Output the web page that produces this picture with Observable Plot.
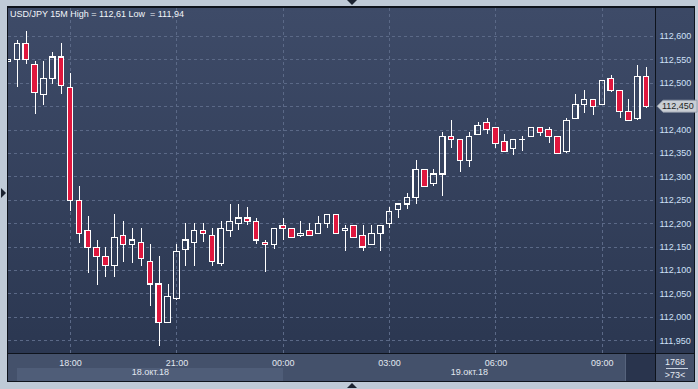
<!DOCTYPE html>
<html><head><meta charset="utf-8">
<script src="https://cdn.jsdelivr.net/npm/d3@7"></script>
<script src="https://cdn.jsdelivr.net/npm/@observablehq/plot@0.6"></script>
<style>
html,body{margin:0;padding:0;background:#bfcad7;}
#wrap{position:relative;width:698px;height:389px;overflow:hidden;background:#bfcad7;font-family:"Liberation Sans",Arial,sans-serif;}
.abs{position:absolute;}
#title{left:10px;top:9px;font-size:9px;color:#f2f5f9;white-space:pre;line-height:11px;}
#chart{left:0;top:0;}
.tri{width:0;height:0;position:absolute;}
</style></head><body>
<div id="wrap">
  <div class="abs" style="left:7px;top:6px;width:688px;height:376px;background:#0e131c"></div>
  <div class="abs" style="left:8px;top:8px;width:647px;height:345px;background:linear-gradient(#3e4b68,#2b3751)"></div>
  <div class="abs" style="left:656px;top:8px;width:38px;height:345px;background:linear-gradient(#3b4865,#2c3852)"></div>
  <div class="abs" style="left:8px;top:354px;width:647px;height:27px;background:#44516b"></div>
  <div class="abs" style="left:17px;top:368px;width:266px;height:13px;background:#4f5d78"></div>
  <div class="abs" style="left:625px;top:354px;width:1px;height:27px;background:#56637c"></div>
  <div class="abs" style="left:626px;top:354px;width:29px;height:27px;background:#29344d"></div>
  <div class="abs" style="left:656px;top:354px;width:38px;height:27px;background:#44516b"></div>
  <div class="abs" style="left:666px;top:368px;width:22px;height:1px;background:#c9d3e0"></div>
  <div class="abs" style="left:656px;top:357px;width:38px;text-align:center;font-size:9px;color:#e4eaf2;line-height:10px">1768</div>
  <div class="abs" style="left:656px;top:370px;width:38px;text-align:center;font-size:9px;color:#e4eaf2;line-height:10px">&gt;73&lt;</div>
  <div class="tri" style="left:347px;top:0px;border-left:5px solid transparent;border-right:5px solid transparent;border-top:5px solid #1b2230"></div>
  <div class="tri" style="left:347px;top:383px;border-left:5px solid transparent;border-right:5px solid transparent;border-bottom:5px solid #1b2230"></div>
  <div class="tri" style="left:1px;top:188px;border-top:5px solid transparent;border-bottom:5px solid transparent;border-left:5px solid #1b2230"></div>
  <div id="chart" class="abs"></div>
  <div id="title" class="abs">USD/JPY 15M High = 112,61 Low  = 111,94</div>
</div>
<script>
// ---- data (15-minute candles, USD/JPY) ----
const times = [
 "2018-10-18T16:15Z","2018-10-18T16:30Z","2018-10-18T16:45Z","2018-10-18T17:00Z","2018-10-18T17:15Z","2018-10-18T17:30Z","2018-10-18T17:45Z",
 "2018-10-18T18:00Z","2018-10-18T18:15Z","2018-10-18T18:30Z","2018-10-18T18:45Z","2018-10-18T19:00Z","2018-10-18T19:15Z","2018-10-18T19:30Z","2018-10-18T19:45Z",
 "2018-10-18T20:00Z","2018-10-18T20:15Z","2018-10-18T20:30Z","2018-10-18T20:45Z","2018-10-18T21:00Z","2018-10-18T21:15Z","2018-10-18T21:30Z","2018-10-18T21:45Z",
 "2018-10-18T22:00Z","2018-10-18T22:15Z","2018-10-18T22:30Z","2018-10-18T22:45Z","2018-10-18T23:00Z","2018-10-18T23:15Z","2018-10-18T23:30Z","2018-10-18T23:45Z",
 "2018-10-19T00:00Z","2018-10-19T00:15Z","2018-10-19T00:30Z","2018-10-19T00:45Z","2018-10-19T01:00Z","2018-10-19T01:15Z","2018-10-19T01:30Z","2018-10-19T01:45Z",
 "2018-10-19T02:00Z","2018-10-19T02:15Z","2018-10-19T02:30Z","2018-10-19T02:45Z","2018-10-19T03:00Z","2018-10-19T03:15Z","2018-10-19T03:30Z","2018-10-19T03:45Z",
 "2018-10-19T04:00Z","2018-10-19T04:15Z","2018-10-19T04:30Z","2018-10-19T04:45Z","2018-10-19T05:00Z","2018-10-19T05:15Z","2018-10-19T05:30Z","2018-10-19T05:45Z",
 "2018-10-19T06:00Z","2018-10-19T06:15Z","2018-10-19T06:30Z","2018-10-19T06:45Z","2018-10-19T07:00Z","2018-10-19T07:15Z","2018-10-19T07:30Z","2018-10-19T07:45Z",
 "2018-10-19T08:00Z","2018-10-19T08:15Z","2018-10-19T08:30Z","2018-10-19T08:45Z","2018-10-19T09:00Z","2018-10-19T09:15Z","2018-10-19T09:30Z","2018-10-19T09:45Z",
 "2018-10-19T10:00Z","2018-10-19T10:15Z"
];
const opens = [
 112.545,112.550,112.584,112.540,112.475,112.510,112.555,
 112.490,112.249,112.185,112.148,112.129,112.109,112.174,112.155,
 112.159,112.119,112.070,111.988,112.040,112.143,112.159,112.185,
 112.174,112.114,112.185,112.200,112.211,112.204,112.159,112.155,
 112.196,112.189,112.174,112.185,112.178,112.200,112.219,112.185,
 112.196,112.174,112.155,112.178,112.200,112.230,112.241,112.255,
 112.315,112.285,112.305,112.386,112.379,112.334,112.390,112.416,
 112.405,112.375,112.360,112.378,112.386,112.405,112.401,112.386,
 112.354,112.424,112.454,112.465,112.454,112.510,112.484,112.439,
 112.424,112.514
];
const highs = [
 112.551,112.591,112.611,112.547,112.547,112.566,112.585,
 112.521,112.280,112.215,112.164,112.149,112.220,112.205,112.190,
 112.190,112.156,112.130,112.070,112.156,112.200,112.200,112.200,
 112.190,112.205,112.241,112.241,112.235,112.211,112.164,112.190,
 112.211,112.190,112.204,112.200,112.215,112.219,112.220,112.196,
 112.196,112.196,112.196,112.196,112.235,112.241,112.264,112.335,
 112.315,112.315,112.394,112.421,112.380,112.394,112.416,112.424,
 112.405,112.390,112.380,112.386,112.405,112.405,112.405,112.386,
 112.424,112.476,112.484,112.465,112.505,112.516,112.484,112.465,
 112.537,112.533
];
const lows = [
 112.544,112.490,112.540,112.434,112.453,112.498,112.475,
 112.225,112.158,112.094,112.068,112.084,112.084,112.118,112.114,
 112.109,112.024,111.938,111.988,112.035,112.109,112.109,112.159,
 112.109,112.109,112.170,112.185,112.196,112.155,112.095,112.144,
 112.164,112.169,112.170,112.174,112.178,112.189,112.178,112.140,
 112.169,112.140,112.155,112.140,112.189,112.211,112.230,112.240,
 112.279,112.279,112.259,112.360,112.309,112.320,112.390,112.390,
 112.360,112.354,112.345,112.354,112.385,112.386,112.371,112.347,
 112.349,112.424,112.435,112.431,112.454,112.480,112.424,112.420,
 112.420,112.446
];
const closes = [
 112.549,112.584,112.550,112.480,112.510,112.555,112.495,
 112.249,112.178,112.148,112.128,112.109,112.170,112.155,112.164,
 112.125,112.070,111.988,112.044,112.140,112.164,112.185,112.178,
 112.119,112.189,112.204,112.211,112.204,112.164,112.155,112.189,
 112.189,112.170,112.178,112.174,112.200,112.219,112.178,112.189,
 112.170,112.149,112.178,112.196,112.225,112.241,112.255,112.315,
 112.279,112.305,112.386,112.379,112.334,112.386,112.409,112.401,
 112.371,112.354,112.379,112.379,112.405,112.394,112.386,112.349,
 112.420,112.454,112.465,112.450,112.505,112.484,112.439,112.420,
 112.514,112.450
];
const yTickValues = [111.95,112.00,112.05,112.10,112.15,112.20,112.25,112.30,112.35,112.40,112.45,112.50,112.55,112.60];
const yLabelValues = [111.95,112.00,112.05,112.10,112.15,112.20,112.25,112.30,112.35,112.40,112.50,112.55,112.60];
const dayLabels = ["18.окт.18","19.окт.18"];
const daySpanStart = ["2018-10-18T16:30Z","2018-10-19T00:00Z"];
const daySpanEnd = ["2018-10-19T00:00Z","2018-10-19T10:30Z"];
const xDomain = ["2018-10-18T16:15Z","2018-10-19T10:30Z"];
const yDomain = [111.9226, 112.6598];

// ---- build ----
const candles = times.map((t,i)=>({date:new Date(t), open:opens[i], high:highs[i], low:lows[i], close:closes[i]}));
const days = dayLabels.map((l,i)=>{const a=+new Date(daySpanStart[i]), b=+new Date(daySpanEnd[i]); return {label:l, mid:new Date((a+b)/2)};});
const halfW = 4.6*60e3; // half candle body, in ms
const threeHours = d3.utcHour.every(3).range(new Date(xDomain[0]), new Date(xDomain[1]));
const fmt = d => d.toFixed(3).replace(".", ",");
const bull = d => d.close >= d.open;

const chart = Plot.plot({
  width: 698, height: 389,
  marginLeft: 8, marginRight: 43, marginTop: 8, marginBottom: 36,
  style: {background: "transparent", fontFamily: "'Liberation Sans', Arial, sans-serif", fontSize: "9px"},
  x: {type: "utc", domain: xDomain.map(d=>new Date(d))},
  y: {domain: yDomain},
  marks: [
    Plot.ruleY(yTickValues, {stroke: "#5b6987", strokeDasharray: "3,3", shapeRendering: "crispEdges"}),
    Plot.ruleX(threeHours, {stroke: "#5b6987", strokeDasharray: "3,3", shapeRendering: "crispEdges"}),
    Plot.axisX({ticks: threeHours, tickFormat: d3.utcFormat("%H:%M"), tickSize: 0, tickPadding: 6, fill: "#e2e8f0", label: null}),
    Plot.axisY({anchor: "right", ticks: yLabelValues, tickFormat: fmt, tickSize: 0, tickPadding: 4, fill: "#cfe0f7", label: null}),
    Plot.ruleX(candles, {x: "date", y1: "high", y2: d => Math.max(d.open, d.close), stroke: "#ffffff", clip: true, shapeRendering: "crispEdges"}),
    Plot.ruleX(candles, {x: "date", y1: d => Math.min(d.open, d.close), y2: "low", stroke: "#ffffff", clip: true, shapeRendering: "crispEdges"}),
    Plot.rect(candles, {
      x1: d => new Date(+d.date - halfW), x2: d => new Date(+d.date + halfW),
      y1: "open", y2: "close",
      fill: d => bull(d) ? "none" : "#e0173e",
      stroke: "#ffffff", strokeWidth: 1.1, clip: true, shapeRendering: "crispEdges"
    }),
    Plot.text(days, {x: "mid", text: "label", frameAnchor: "bottom", dy: 21, fill: "#e2e8f0"})
  ]
});
document.getElementById("chart").appendChild(chart);

// current price marker on the right axis
const last = candles[candles.length - 1];
const py = chart.scale("y").apply(last.close);
const svg = d3.select(chart);
const g = svg.append("g").attr("text-anchor", "start");
g.append("path")
  .attr("d", `M657,${py} L663,${py-6} L697,${py-6} L697,${py+6} L663,${py+6} Z`)
  .attr("fill", "#c9ced4").attr("stroke", "#8e98a6").attr("stroke-width", 0.8);
g.append("text").attr("x", 662).attr("y", py).attr("dy", "0.34em")
  .attr("text-anchor", "start")
  .attr("fill", "#1b1e24").attr("font-size", 9).text(fmt(last.close));
</script>
</body></html>
